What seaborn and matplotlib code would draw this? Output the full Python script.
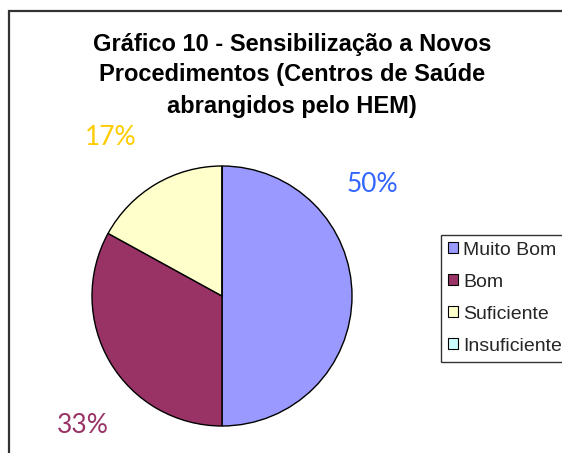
import matplotlib.pyplot as plt
import numpy as np
import seaborn as sns
from matplotlib.patches import Patch, Rectangle

sns.set_theme(style='white')
plt.rcParams['font.family'] = ['Liberation Sans', 'DejaVu Sans']

categories = ['Muito Bom', 'Bom', 'Suficiente', 'Insuficiente']
values = [50, 33, 17, 0]
colors = ['#9999FF', '#993366', '#FFFFCC', '#CCFFFF']
label_colors = ['#3366FF', '#993366', '#FFCC00', '#33CCCC']
title_lines = ['Gráfico 10 - Sensibilização a Novos',
               'Procedimentos (Centros de Saúde',
               'abrangidos pelo HEM)']

# where each percentage label sits: angle (deg) and distance (radius units)
label_pos = [(36.5, 1.44), (223, 1.46), (125, 1.49), None]

W, H = 562, 453
fig = plt.figure(figsize=(W / 100, H / 100), dpi=100)

# outer chart frame (open at right/bottom like the source crop)
fig.patches.append(Rectangle((9 / W, -0.2), 1.2, 1 - 11 / H + 0.2, transform=fig.transFigure,
                             fill=False, edgecolor='#333333', linewidth=1.6))

for i, line in enumerate(title_lines):
    fig.text(292 / W, 1 - (44 + 31 * i) / H, line, ha='center', va='center',
             fontsize=17, fontweight='bold', color='black')

cx, cy, r = 222, 296, 130
ax = fig.add_axes([(cx - r) / W, (H - cy - r) / H, 2 * r / W, 2 * r / H])
wedges, _ = ax.pie(values, colors=colors, startangle=90, counterclock=False,
                   wedgeprops=dict(edgecolor='black', linewidth=1.0))
ax.set_xlim(-1, 1)
ax.set_ylim(-1, 1)
ax.set_aspect('equal')
ax.axis('off')

for v, pos, c in zip(values, label_pos, label_colors):
    if pos is None or v == 0:
        continue
    ang, dist = pos
    x = dist * np.cos(np.radians(ang))
    y = dist * np.sin(np.radians(ang))
    ax.text(x, y, f'{v}%', ha='center', va='center', fontsize=19,
            color=c, family=['Lato', 'DejaVu Sans'], clip_on=False)

handles = [Patch(facecolor=c, edgecolor='black', linewidth=0.8) for c in colors]
leg = fig.legend(handles, categories, loc='upper left', bbox_to_anchor=(441 / W, 1 - 235 / H),
                 frameon=True, fancybox=False, fontsize=14, labelspacing=0.77,
                 handlelength=0.5, handleheight=0.5, handletextpad=0.3,
                 borderpad=0.35, borderaxespad=0)
leg.get_frame().set_edgecolor('black')
leg.get_frame().set_linewidth(1.0)

fig.savefig('out.png', dpi=100)
